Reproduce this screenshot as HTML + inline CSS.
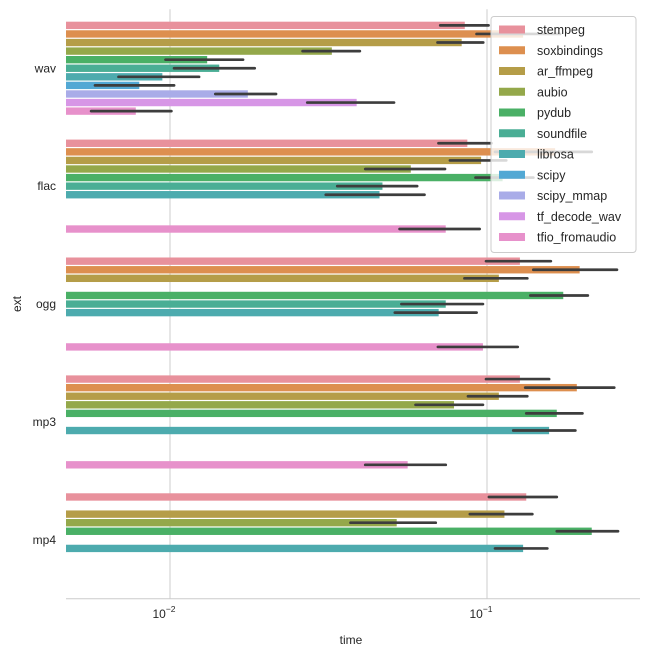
<!DOCTYPE html>
<html><head><meta charset="utf-8"><style>
body{margin:0;background:#fff;}
svg{display:block;font-family:"Liberation Sans","DejaVu Sans",sans-serif;}
</style></head><body>
<svg id="chart" width="650" height="657" viewBox="0 0 650 657" xmlns="http://www.w3.org/2000/svg"></svg>
<script>
const categories = ["wav","flac","ogg","mp3","mp4"];
const hues = ["stempeg","soxbindings","ar_ffmpeg","aubio","pydub","soundfile","librosa","scipy","scipy_mmap","tf_decode_wav","tfio_fromaudio"];
const colors = ["#e8919c","#dd8f4f","#b59d48","#94a84a","#4ab066","#4aae95","#4dabae","#52a8d4","#a9ace8","#d796e6","#e791cb"];
// mean values per hue, order of categories (null = missing)
const stempegVals    = [0.0851,0.0867,0.127,0.127,0.133];
const soxbindingsVals= [0.130,0.164,0.196,0.192,null];
const arFfmpegVals   = [0.0832,0.0958,0.109,0.109,0.1135];
const aubioVals      = [0.0324,0.0575,null,0.0787,0.0519];
const pydubVals      = [0.0131,0.112,0.174,0.166,0.214];
const soundfileVals  = [0.0143,0.0468,0.0741,null,null];
const librosaVals    = [0.00946,0.0458,0.0704,0.157,0.130];
const scipyVals      = [0.0080,null,null,null,null];
const scipyMmapVals  = [0.0176,null,null,null,null];
const tfDecodeVals   = [0.0388,null,null,null,null];
const tfioVals       = [0.0078,0.0741,0.0971,0.0562,null];
// confidence intervals
const stempegLo=[0.0712,0.0703,0.0993,0.0993,0.1014], stempegHi=[0.1011,0.1033,0.159,0.157,0.166];
const soxLo=[0.0927,0.106,0.140,0.132,null], soxHi=[0.170,0.214,0.257,0.252,null];
const arLo=[0.0698,0.0764,0.0849,0.0871,0.0883], arHi=[0.0973,0.115,0.134,0.134,0.139];
const aubioLo=[0.0262,0.0413,null,0.0595,0.0371], aubioHi=[0.0397,0.0737,null,0.0971,0.0689];
const pydubLo=[0.00968,0.092,0.137,0.133,0.166], pydubHi=[0.0170,0.14,0.208,0.200,0.259];
const soundfileLo=[0.0103,0.0337,0.0537,null,null], soundfileHi=[0.0185,0.0602,0.0971,null,null];
const librosaLo=[0.00688,0.0310,0.0512,0.121,0.106], librosaHi=[0.01235,0.0635,0.0927,0.190,0.155];
const scipyLo=[0.0058,null,null,null,null], scipyHi=[0.0103,null,null,null,null];
const mmapLo=[0.0139,null,null,null,null], mmapHi=[0.0216,null,null,null,null];
const tfdLo=[0.0271,null,null,null,null], tfdHi=[0.0509,null,null,null,null];
const tfioLo=[0.00564,0.0530,0.070,0.0413,null], tfioHi=[0.0101,0.0948,0.125,0.0741,null];
const xTickVals=[0.01,0.1];
const xTickExps=["−2","−1"];

const vals=[stempegVals,soxbindingsVals,arFfmpegVals,aubioVals,pydubVals,soundfileVals,librosaVals,scipyVals,scipyMmapVals,tfDecodeVals,tfioVals];
const los=[stempegLo,soxLo,arLo,aubioLo,pydubLo,soundfileLo,librosaLo,scipyLo,mmapLo,tfdLo,tfioLo];
const his=[stempegHi,soxHi,arHi,aubioHi,pydubHi,soundfileHi,librosaHi,scipyHi,mmapHi,tfdHi,tfioHi];

const NS="http://www.w3.org/2000/svg";
const svg=document.getElementById("chart");
const L=66,R=640,T=9.3,B=598.8;
const X=v=>170+317*Math.log10(v/0.01);
const gStep=(B-T)/categories.length;
const Yc=i=>T+gStep*(i+0.5);
const bw=gStep*0.8/hues.length;
function mk(t,a,p){const e=document.createElementNS(NS,t);for(const k in a)e.setAttribute(k,a[k]);(p||svg).appendChild(e);return e;}

// grid
xTickVals.forEach((v,i)=>{
  const g=mk("line",{x1:X(v),x2:X(v),y1:T,y2:B,stroke:"#cccccc","stroke-width":1});
  
  
  const t=mk("text",{x:X(v)-6,y:618,"font-size":12,fill:"#262626","text-anchor":"middle"});
  
  
  t.textContent="10";
  const s=mk("tspan",{dy:-6,"font-size":8.5},t);
  s.textContent=xTickExps[i];
});
// bars
vals.forEach((arr,h)=>{
  arr.forEach((v,c)=>{
    if(v==null)return;
    const y=Yc(c)-gStep*0.4+h*bw;
    const r=mk("rect",{x:L,y:y+0.6,width:X(v)-L,height:bw-1.2,fill:colors[h]});
    
    
  });
});
vals.forEach((arr,h)=>{
  arr.forEach((v,c)=>{
    if(v==null)return;
    const y=Yc(c)-gStep*0.4+h*bw+bw/2;
    const e=mk("line",{x1:X(los[h][c]),x2:X(his[h][c]),y1:y,y2:y,stroke:"#3d3d3d","stroke-width":2.7,"stroke-linecap":"round"});
    
    
  });
});
// axis
const ax=mk("line",{x1:L,x2:R,y1:B,y2:B,stroke:"#cccccc","stroke-width":1});


categories.forEach((c,i)=>{
  const t=mk("text",{x:56,y:Yc(i)+4,"font-size":12,fill:"#262626","text-anchor":"end"});
  
  
  t.textContent=c;
});
const xt=mk("text",{x:351,y:644,"font-size":12,fill:"#262626","text-anchor":"middle"});


xt.textContent="time";
const yt=mk("text",{x:21,y:304,"font-size":12,fill:"#262626","text-anchor":"middle",transform:"rotate(-90 21 304)"});


yt.textContent="ext";
// legend
const lg=mk("g",{});


const lb=mk("rect",{x:491,y:16.5,width:145,height:236,rx:3,fill:"rgba(255,255,255,0.8)",stroke:"#cccccc","stroke-width":1},lg);


hues.forEach((h,i)=>{
  const y=29.5+i*20.75;
  const e=mk("g",{},lg);
  
  
  mk("rect",{x:499,y:y-4,width:26,height:8,fill:colors[i]},e);
  const t=mk("text",{x:537,y:y+4.5,"font-size":12.5,fill:"#262626"},e);
  t.textContent=h;
});
</script>
</body></html>
